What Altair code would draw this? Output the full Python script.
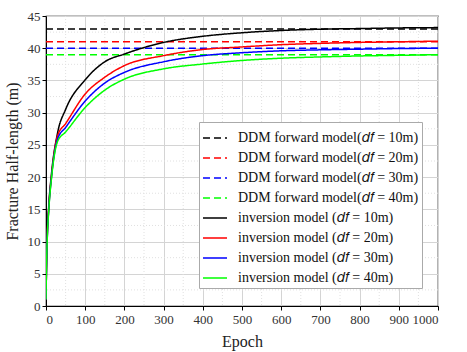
import altair as alt
import pandas as pd

# ---- data ----
epochs = [0, 1, 3, 7, 14, 30, 50, 100, 150, 200, 300, 400, 500, 600, 700, 800, 900, 1000]
inv_10 = [1, 5, 10.5, 15.5, 20.5, 27.0, 30.5, 35.1, 37.9, 39.1, 40.9, 41.85, 42.4, 42.75, 42.95, 43.05, 43.15, 43.2]
inv_20 = [1, 5, 10.3, 15.2, 20.2, 26.5, 28.3, 32.9, 35.5, 37.3, 38.85, 39.8, 40.2, 40.55, 40.75, 40.9, 41.0, 41.1]
inv_30 = [1, 5, 10.1, 15.0, 20.0, 26.0, 27.7, 31.8, 34.6, 36.25, 37.9, 38.85, 39.3, 39.6, 39.75, 39.85, 39.95, 40.0]
inv_40 = [1, 5, 10.0, 14.8, 19.8, 25.6, 27.0, 30.8, 33.5, 35.2, 36.8, 37.55, 38.1, 38.45, 38.65, 38.8, 38.9, 39.0]
ddm_levels = [43, 41, 40, 39]
depths = ["10m", "20m", "30m", "40m"]
colors = ["#000000", "#ff0000", "#0000ff", "#00ff00"]
x_major = list(range(0, 1001, 100))
x_minor = list(range(50, 1000, 100))
y_major = list(range(0, 46, 5))
y_minor = [2.5, 7.5, 12.5, 17.5, 22.5, 27.5, 32.5, 37.5, 42.5]

ddm_names = [f"DDM forward model(𝑑𝑓 = {d})" for d in depths]
inv_names = [f"inversion model (𝑑𝑓 = {d})" for d in depths]
order = ddm_names + inv_names

rows = []
for name, lvl in zip(ddm_names, ddm_levels):
    rows.append({"series": name, "epoch": 0, "value": lvl})
    rows.append({"series": name, "epoch": 1000, "value": lvl})
ddm_df = pd.DataFrame(rows)

rows = []
for name, vals in zip(inv_names, [inv_10, inv_20, inv_30, inv_40]):
    for e, v in zip(epochs, vals):
        rows.append({"series": name, "epoch": e, "value": v})
inv_df = pd.DataFrame(rows)
df = pd.concat([ddm_df, inv_df], ignore_index=True)

xs = alt.Scale(domain=[0, 1000], nice=False)
ys = alt.Scale(domain=[0, 45], nice=False)

color_scale = alt.Scale(domain=order, range=colors + colors)
dash_scale = alt.Scale(domain=order, range=[[7, 4]] * 4 + [[1, 0]] * 4)

axis_font = "Liberation Serif"
x_axis = alt.Axis(values=x_major, grid=True, gridColor="#d4d4d4", tickSize=4, labelPadding=3,
                  titlePadding=7, format="d", labelOverlap=False, labelFont=axis_font,
                  labelFontSize=13, labelColor="#333333", titleFont=axis_font, titleFontSize=16,
                  titleFontWeight="normal", titleColor="#222222")
y_axis = alt.Axis(values=y_major, grid=True, gridColor="#d4d4d4", tickSize=4, labelPadding=2,
                  titlePadding=7, format="d", labelOverlap=False, labelFont=axis_font,
                  labelFontSize=13, labelColor="#333333", titleFont=axis_font, titleFontSize=16,
                  titleFontWeight="normal", titleColor="#222222")
x_title = "Epoch"
y_title = "Fracture Half-length (m)"

grid_minor_x = alt.Chart(pd.DataFrame({"x": x_minor})).mark_rule(
    color="#e0e0e0", strokeWidth=1, strokeDash=[1, 2]).encode(
    x=alt.X("x:Q", scale=xs, axis=x_axis, title=x_title))
grid_minor_y = alt.Chart(pd.DataFrame({"y": y_minor})).mark_rule(
    color="#e0e0e0", strokeWidth=1, strokeDash=[1, 2]).encode(
    y=alt.Y("y:Q", scale=ys, axis=y_axis, title=y_title))

leg = alt.Legend(title=None, orient="none", legendX=153, legendY=106)
lines = alt.Chart(df).mark_line(strokeWidth=1.5, interpolate="monotone", clip=True).encode(
    x=alt.X("epoch:Q", scale=xs, axis=x_axis, title=x_title),
    y=alt.Y("value:Q", scale=ys, axis=y_axis, title=y_title),
    color=alt.Color("series:N", scale=color_scale, sort=order, legend=leg),
    strokeDash=alt.StrokeDash("series:N", scale=dash_scale, sort=order, legend=leg),
    detail="series:N",
)

chart = alt.layer(grid_minor_x, grid_minor_y, lines).properties(
    width=392, height=290,
    autosize=alt.AutoSizeParams(type="none"),
    padding={"left": 46, "top": 16, "right": 29, "bottom": 46},
).configure_view(stroke="#000000", strokeWidth=1.2).configure_axis(
    domainColor="#000000", tickColor="#000000", labelFont=axis_font, titleFont=axis_font
).configure_legend(
    symbolType="stroke", symbolSize=576, symbolStrokeWidth=1.5, labelFont="Liberation Serif",
    labelFontSize=14, labelColor="#111111", labelLimit=400, fillColor="#ffffff", strokeColor="#aaaaaa",
    padding=3, rowPadding=0, labelOffset=10
)

chart.save("out.html", embed_options={"renderer": "svg", "actions": False})
